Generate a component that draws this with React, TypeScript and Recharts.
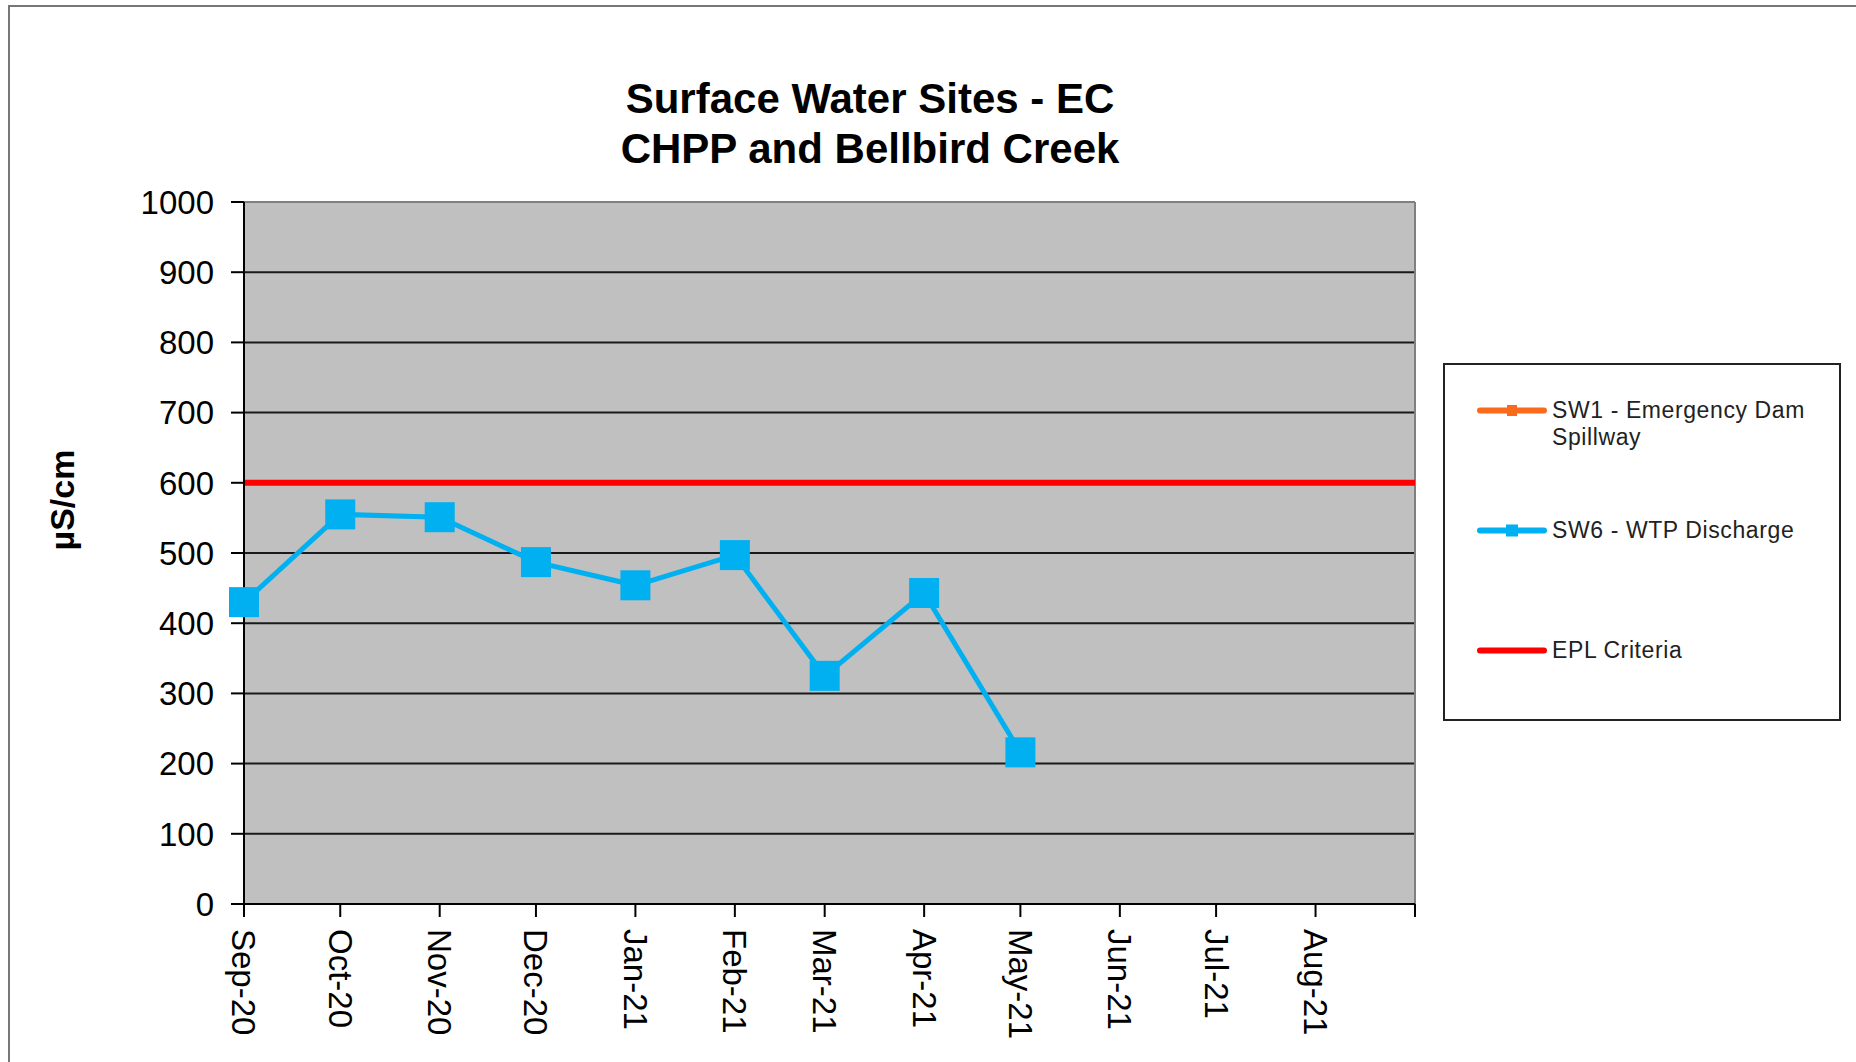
import React from 'react';
import { LineChart, Line, XAxis, YAxis, CartesianGrid, Legend, ReferenceLine } from 'recharts';

const FONT = '"Liberation Sans", Arial, sans-serif';

// Excel date axis: one point per month start, the last date only closes the axis
const monthDates = ['2020-09-01', '2020-10-01', '2020-11-01', '2020-12-01', '2021-01-01', '2021-02-01', '2021-03-01', '2021-04-01', '2021-05-01', '2021-06-01', '2021-07-01', '2021-08-01', '2021-09-01'];
const tickLabels = ['Sep-20', 'Oct-20', 'Nov-20', 'Dec-20', 'Jan-21', 'Feb-21', 'Mar-21', 'Apr-21', 'May-21', 'Jun-21', 'Jul-21', 'Aug-21', ''];
const sw1Values: (number | null)[] = [null, null, null, null, null, null, null, null, null, null, null, null, null];
const sw6Values: (number | null)[] = [430, 555, 551, 487, 454, 497, 325, 443, 216, null, null, null, null];
const eplValues: number[] = [600, 600, 600, 600, 600, 600, 600, 600, 600, 600, 600, 600, 600];
const yTicks = [0, 100, 200, 300, 400, 500, 600, 700, 800, 900, 1000];
const legendOrder = ['sw1', 'sw6', 'epl'];

const times = monthDates.map((d) => Date.parse(d));

const chartData = times.map((t, i) => ({
  t,
  sw1: sw1Values[i],
  sw6: sw6Values[i],
  epl: eplValues[i],
}));

const MonthTick = (props: any) => {
  const { x, y, payload } = props;
  const label = tickLabels[times.indexOf(payload.value)] ?? '';
  return (
    <g transform={`translate(${x},${y})`}>
      <text transform="rotate(90)" x={0} y={0} dy="0.35em" textAnchor="start" fontSize={33} fontFamily={FONT} fill="#000">
        {label}
      </text>
    </g>
  );
};

const SquareDot = (props: any) => {
  const { cx, cy, index, value } = props;
  if (value == null || cx == null || cy == null) return <g key={`d-${index}`} />;
  return <rect key={`d-${index}`} x={cx - 15} y={cy - 15} width={30} height={30} fill="#00B0F0" />;
};

const markerFor: Record<string, string> = { sw1: 'bar', sw6: 'square', epl: 'none' };

const LegendBox = (props: any) => {
  const items = [...(props.payload || [])].sort(
    (a: any, b: any) => legendOrder.indexOf(a.dataKey) - legendOrder.indexOf(b.dataKey)
  );
  return (
    <div style={{ width: 398, height: 358, boxSizing: 'border-box', border: '2px solid #222', background: '#fff', position: 'relative', fontFamily: FONT }}>
      {items.map((entry: any, i: number) => {
        const marker = markerFor[entry.dataKey];
        return (
          <div key={entry.value} style={{ position: 'absolute', left: 31, top: 32 + i * 120, display: 'flex', alignItems: 'flex-start' }}>
            <svg width={76} height={27} style={{ display: 'block' }}>
              <line x1={4} y1={13.5} x2={68} y2={13.5} stroke={entry.color} strokeWidth={6} strokeLinecap="round" />
              {marker === 'square' && <rect x={30} y={7.5} width={12} height={12} fill={entry.color} />}
              {marker === 'bar' && <rect x={31} y={8} width={10} height={11} fill={entry.color} />}
            </svg>
            <span style={{ width: 275, fontSize: 23, lineHeight: '27px', color: '#222', letterSpacing: 0.6 }}>{entry.value}</span>
          </div>
        );
      })}
    </div>
  );
};

const App: React.FC = () => {
  return (
    <div style={{ position: 'fixed', left: 0, top: 0, width: 1856, height: 1062, overflow: 'hidden', background: '#fff' }}>
      <div style={{ position: 'absolute', left: 8, top: 5, width: 1900, height: 1100, border: '2px solid #777' }} />
      <div
        style={{
          position: 'absolute',
          left: 870,
          top: 74,
          transform: 'translateX(-50%)',
          textAlign: 'center',
          whiteSpace: 'nowrap',
          fontFamily: FONT,
          fontWeight: 'bold',
          fontSize: 42,
          lineHeight: '50px',
          color: '#000',
        }}
      >
        <div>Surface Water Sites - EC</div>
        <div>CHPP and Bellbird Creek</div>
      </div>
      <div style={{ position: 'absolute', left: 0, top: 0 }}>
        <LineChart width={1856} height={1062} data={chartData} margin={{ top: 202, right: 441, left: 44, bottom: 8 }}>
          <CartesianGrid vertical={false} stroke="#1a1a1a" strokeWidth={2} fill="#C0C0C0" fillOpacity={1} />
          <XAxis
            dataKey="t"
            type="number"
            scale="time"
            domain={[times[0], times[times.length - 1]]}
            ticks={times}
            interval={0}
            height={150}
            tickSize={13}
            tickMargin={12}
            tick={<MonthTick />}
            axisLine={{ stroke: '#000', strokeWidth: 2 }}
            tickLine={{ stroke: '#000', strokeWidth: 2 }}
          />
          <YAxis
            width={200}
            domain={[0, 1000]}
            ticks={yTicks}
            interval={0}
            tickSize={13}
            tickMargin={17}
            tick={{ fontSize: 33, fill: '#000', fontFamily: FONT }}
            axisLine={{ stroke: '#000', strokeWidth: 2 }}
            tickLine={{ stroke: '#000', strokeWidth: 2 }}
            label={{
              content: () => (
                <text x={62} y={500} transform="rotate(-90, 62, 500)" textAnchor="middle" dy="0.35em" fontSize={34} fontWeight="bold" fontFamily={FONT} fill="#000">
                  µS/cm
                </text>
              ),
            }}
          />
          <ReferenceLine y={1000} stroke="#808080" strokeWidth={2} />
          <ReferenceLine x={times[times.length - 1]} stroke="#808080" strokeWidth={2} />
          <Line dataKey="sw1" name="SW1 - Emergency Dam Spillway" stroke="#F96A1B" strokeWidth={5} dot={false} isAnimationActive={false} />
          <Line dataKey="epl" name="EPL Criteria" stroke="#FF0000" strokeWidth={6} dot={false} isAnimationActive={false} />
          <Line dataKey="sw6" name="SW6 - WTP Discharge" stroke="#00B0F0" strokeWidth={5} dot={<SquareDot />} isAnimationActive={false} />
          <Legend
            layout="horizontal"
            align="center"
            verticalAlign="middle"
            content={<LegendBox />}
            wrapperStyle={{ position: 'absolute', left: 1443, top: 363, width: 398, height: 358 }}
          />
        </LineChart>
      </div>
    </div>
  );
};

export default App;
